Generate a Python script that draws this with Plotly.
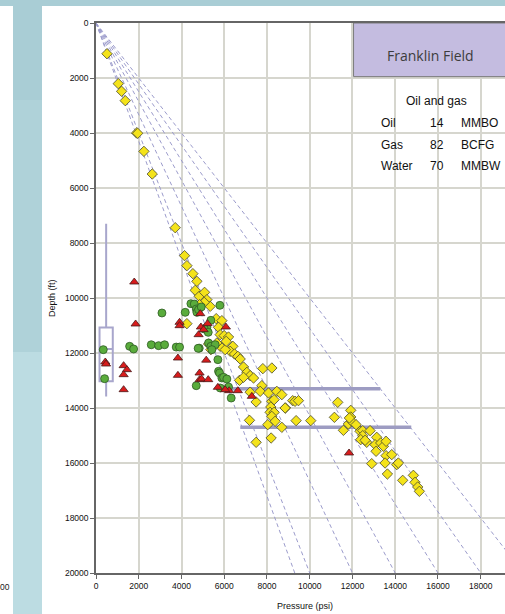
import plotly.graph_objects as go

# ---------------- data ----------------
yellow_psi = [513, 1042, 1198, 1369, 1899, 1950, 2242, 2632, 3707,
              4143, 4253, 4533, 4720, 4643, 4830, 5079, 5188, 5344, 5064, 4845, 4253,
              5624, 5889, 5733, 5811, 5998, 6200, 6403, 6279, 6481, 6637, 6746, 5811,
              6045, 6092, 5375, 5266, 5655, 6902, 7058, 7213, 6715, 6902, 7370, 7806,
              8227, 7759, 7681, 8071, 8459, 8693, 7492, 8224, 8333, 8178, 8147, 8333,
              8224, 8380, 8864, 7181, 8037, 8693, 8193, 7492, 7213,
              9203, 9312, 9471, 8847, 9362, 10047, 11310, 11154, 11575, 11808, 11918,
              11918, 11964, 12167, 12354, 12479, 12822, 12479, 12385, 12666, 13134,
              13056, 13321, 13446, 13571, 13103, 13571, 13836, 13524, 14069, 14147,
              12900, 13633, 14349, 14848, 14926, 15051, 15129, 11855, 12589]
yellow_depth = [1117, 2205, 2484, 2824, 4001, 4010, 4668, 5492, 7443,
                8460, 8824, 9115, 9394, 9721, 9939, 9794, 10060, 10303, 10157, 10242, 10933,
                10751, 10824, 11066, 11333, 11369, 11418, 11757, 11939, 12036, 12121, 12218, 11757,
                11878, 11575, 11878, 11672, 11636, 12509, 12703, 12824, 12994, 12885, 12909, 12569,
                12545, 13188, 13394, 13454, 13394, 13515, 13781, 13757, 13697, 13963, 14157, 14157,
                14303, 14484, 13999, 14448, 14606, 14703, 15091, 15248, 13424,
                13733, 13757, 13733, 13999, 14460, 14460, 13794, 14339, 14812, 14581, 14085,
                14327, 14484, 14606, 14848, 14824, 14824, 15006, 15151, 15248, 15066,
                15333, 15272, 15393, 15212, 15575, 15733, 15696, 16000, 16060, 16000,
                16024, 16400, 16630, 16448, 16703, 16872, 17030, 14363, 15175]

green_psi = [341, 403, 1574, 1760, 3085, 2585, 2929, 3209, 3754, 3910, 4175, 4440,
             4596, 4690, 4721, 4799, 4924, 5375, 5796, 5188, 5064, 5250, 4830, 4780,
             5266, 5375, 5577, 5422, 5702, 5733, 5780, 5889, 5967, 6122, 4690, 5811,
             6200, 6325]
green_depth = [11878, 12933, 11757, 11854, 10545, 11700, 11733, 11700, 11785, 11785, 10521, 10206,
               10218, 10400, 10521, 10424, 10327, 10812, 10267, 11066, 11127, 11248, 11824, 11830,
               11636, 11757, 11697, 11878, 12242, 12667, 12727, 12909, 12885, 12945, 13188, 13273,
               13236, 13637]

red_psi = [436, 470, 1791, 1853, 1292, 1448, 1292, 1292, 3910, 3910, 3832, 3832,
           4877, 4908, 4799, 5033, 5219, 6076, 5157, 4845, 4845, 4939, 5250, 5702,
           6232, 6637, 7291, 11839, 6043]
red_depth = [12327, 12400, 9418, 10945, 12460, 12606, 12788, 13333, 10885, 11006, 12182, 12812,
             10569, 11054, 11333, 11151, 10933, 11054, 12260, 12727, 12969, 12945, 12969, 13248,
             13370, 13370, 13576, 15636, 13333]

# pressure-gradient reference lines (psi/ft)
gradients = [0.465, 0.5, 0.6, 0.7, 0.8, 0.9, 1.0]
grad_depth = [0, 20000]

# box plot summary (depth, ft)
box_x = [475]
box_width = 620
box_lowerfence = [7300]
box_q1 = [11070]
box_median = [11855]
box_q3 = [13030]
box_upperfence = [13580]

# horizontal range bars (psi, depth ft)
bar1_psi = [6000, 13300]
bar1_depth = [13300, 13300]
bar2_psi = [6750, 14750]
bar2_depth = [14700, 14700]

x_ticks = list(range(0, 20001, 2000))
y_ticks = list(range(0, 20001, 2000))

resource_names = ["Oil", "Gas", "Water"]
resource_values = ["14", "82", "70"]
resource_units = ["MMBO", "BCFG", "MMBW"]

# ---------------- layout geometry (pixels) ----------------
FW, FH = 505, 614
L, R, T, B = 96, 505, 23, 573
W, H = R - L, B - T

def px(x):
    return (x - L) / W

def py(y):
    return (B - y) / H

FONT = "Arial, Liberation Sans, sans-serif"

fig = go.Figure()

# gradient lines
for g in gradients:
    fig.add_trace(go.Scatter(
        x=[g * d for d in grad_depth], y=grad_depth, mode="lines",
        line=dict(color="#9c9ccc", width=1, dash="4px,3px"),
        hoverinfo="skip", showlegend=False))

# box
fig.add_trace(go.Box(
    x=box_x, q1=box_q1, median=box_median, q3=box_q3,
    lowerfence=box_lowerfence, upperfence=box_upperfence,
    width=box_width, whiskerwidth=0, boxpoints=False,
    fillcolor="rgba(255,255,255,0)",
    line=dict(color="#a8a6cc", width=2), showlegend=False))

# range bars
for xs, ys in [(bar1_psi, bar1_depth), (bar2_psi, bar2_depth)]:
    fig.add_trace(go.Scatter(x=xs, y=ys, mode="lines",
                             line=dict(color="#9d9cc2", width=3.5),
                             showlegend=False))

fig.add_trace(go.Scatter(
    x=yellow_psi, y=yellow_depth, mode="markers",
    marker=dict(symbol="diamond", size=8, color="#f4e31a",
                line=dict(color="#4a4a30", width=0.8)), showlegend=False))
fig.add_trace(go.Scatter(
    x=green_psi, y=green_depth, mode="markers",
    marker=dict(symbol="circle", size=8, color="#5aac3c",
                line=dict(color="#2f5a25", width=0.8)), showlegend=False))
fig.add_trace(go.Scatter(
    x=red_psi, y=red_depth, mode="markers",
    marker=dict(symbol="triangle-up", size=8, color="#d81c1c",
                line=dict(color="#4a1a1a", width=0.8)), showlegend=False))

shapes = []
# background decorative strips (outside the chart)
shapes.append(dict(type="rect", xref="paper", yref="paper",
                   x0=px(0), x1=px(FW), y0=py(6), y1=py(0),
                   fillcolor="#a9cdd5", line=dict(width=0), layer="below"))
for (y0, y1, c) in [(0, 100, "#a9cdd5"), (100, 352, "#afd2d9"), (352, FH, "#bcdce2")]:
    shapes.append(dict(type="rect", xref="paper", yref="paper",
                       x0=px(13), x1=px(42), y0=py(y1), y1=py(y0),
                       fillcolor=c, line=dict(width=0), layer="below"))
# Franklin Field title box
shapes.append(dict(type="rect", xref="x", yref="y",
                   x0=12050, x1=21000, y0=0, y1=1950,
                   fillcolor="#c4bce0", line=dict(color="#7a7a7a", width=1),
                   layer="above"))
fig.update_layout(shapes=shapes)


def text(t, x, y, size, xanchor="center", family=FONT, color="#111", angle=0):
    return dict(text=t, xref="paper", yref="paper", x=px(x), y=py(y),
                xanchor=xanchor, yanchor="middle", showarrow=False,
                textangle=angle, font=dict(family=family, size=size, color=color))


ann = [text("Franklin Field", 430, 55, 14, family="Open Sans, sans-serif", color="#3c3c3c"),
       text("Oil and gas", 436, 101, 12)]
for i, (n, v, u) in enumerate(zip(resource_names, resource_values, resource_units)):
    yy = 123 + i * 21.5
    ann.append(text(n, 379, yy, 12, xanchor="left"))
    ann.append(text(v, 445.5, yy, 12, xanchor="right"))
    ann.append(text(u, 459, yy, 12, xanchor="left"))
ann.append(text("Depth (ft)", 52, 298, 9, angle=-90))
ann.append(text("Pressure (psi)", 305, 606, 9))
ann.append(text("00", 12, 587, 8.5, xanchor="right", color="#222"))
fig.update_layout(annotations=ann)

axis_common = dict(showgrid=True, gridcolor="#d6d6ce", gridwidth=1.5,
                   showline=True, linecolor="#666", linewidth=1.5,
                   ticks="outside", ticklen=4, tickcolor="#666", tickwidth=1,
                   tickfont=dict(family=FONT, size=8.5, color="#111"),
                   tickformat="d", zeroline=False)
fig.update_xaxes(range=[0, (R - 95.7) / 21.39 * 1000], tickvals=x_ticks,
                 mirror=True, **axis_common)
fig.update_yaxes(range=[20000, 0], tickvals=y_ticks, **axis_common)

fig.update_layout(width=FW, height=FH,
                  margin=dict(l=L, r=FW - R, t=T, b=FH - B),
                  paper_bgcolor="white", plot_bgcolor="white",
                  showlegend=False)

fig.write_html("out.html")
